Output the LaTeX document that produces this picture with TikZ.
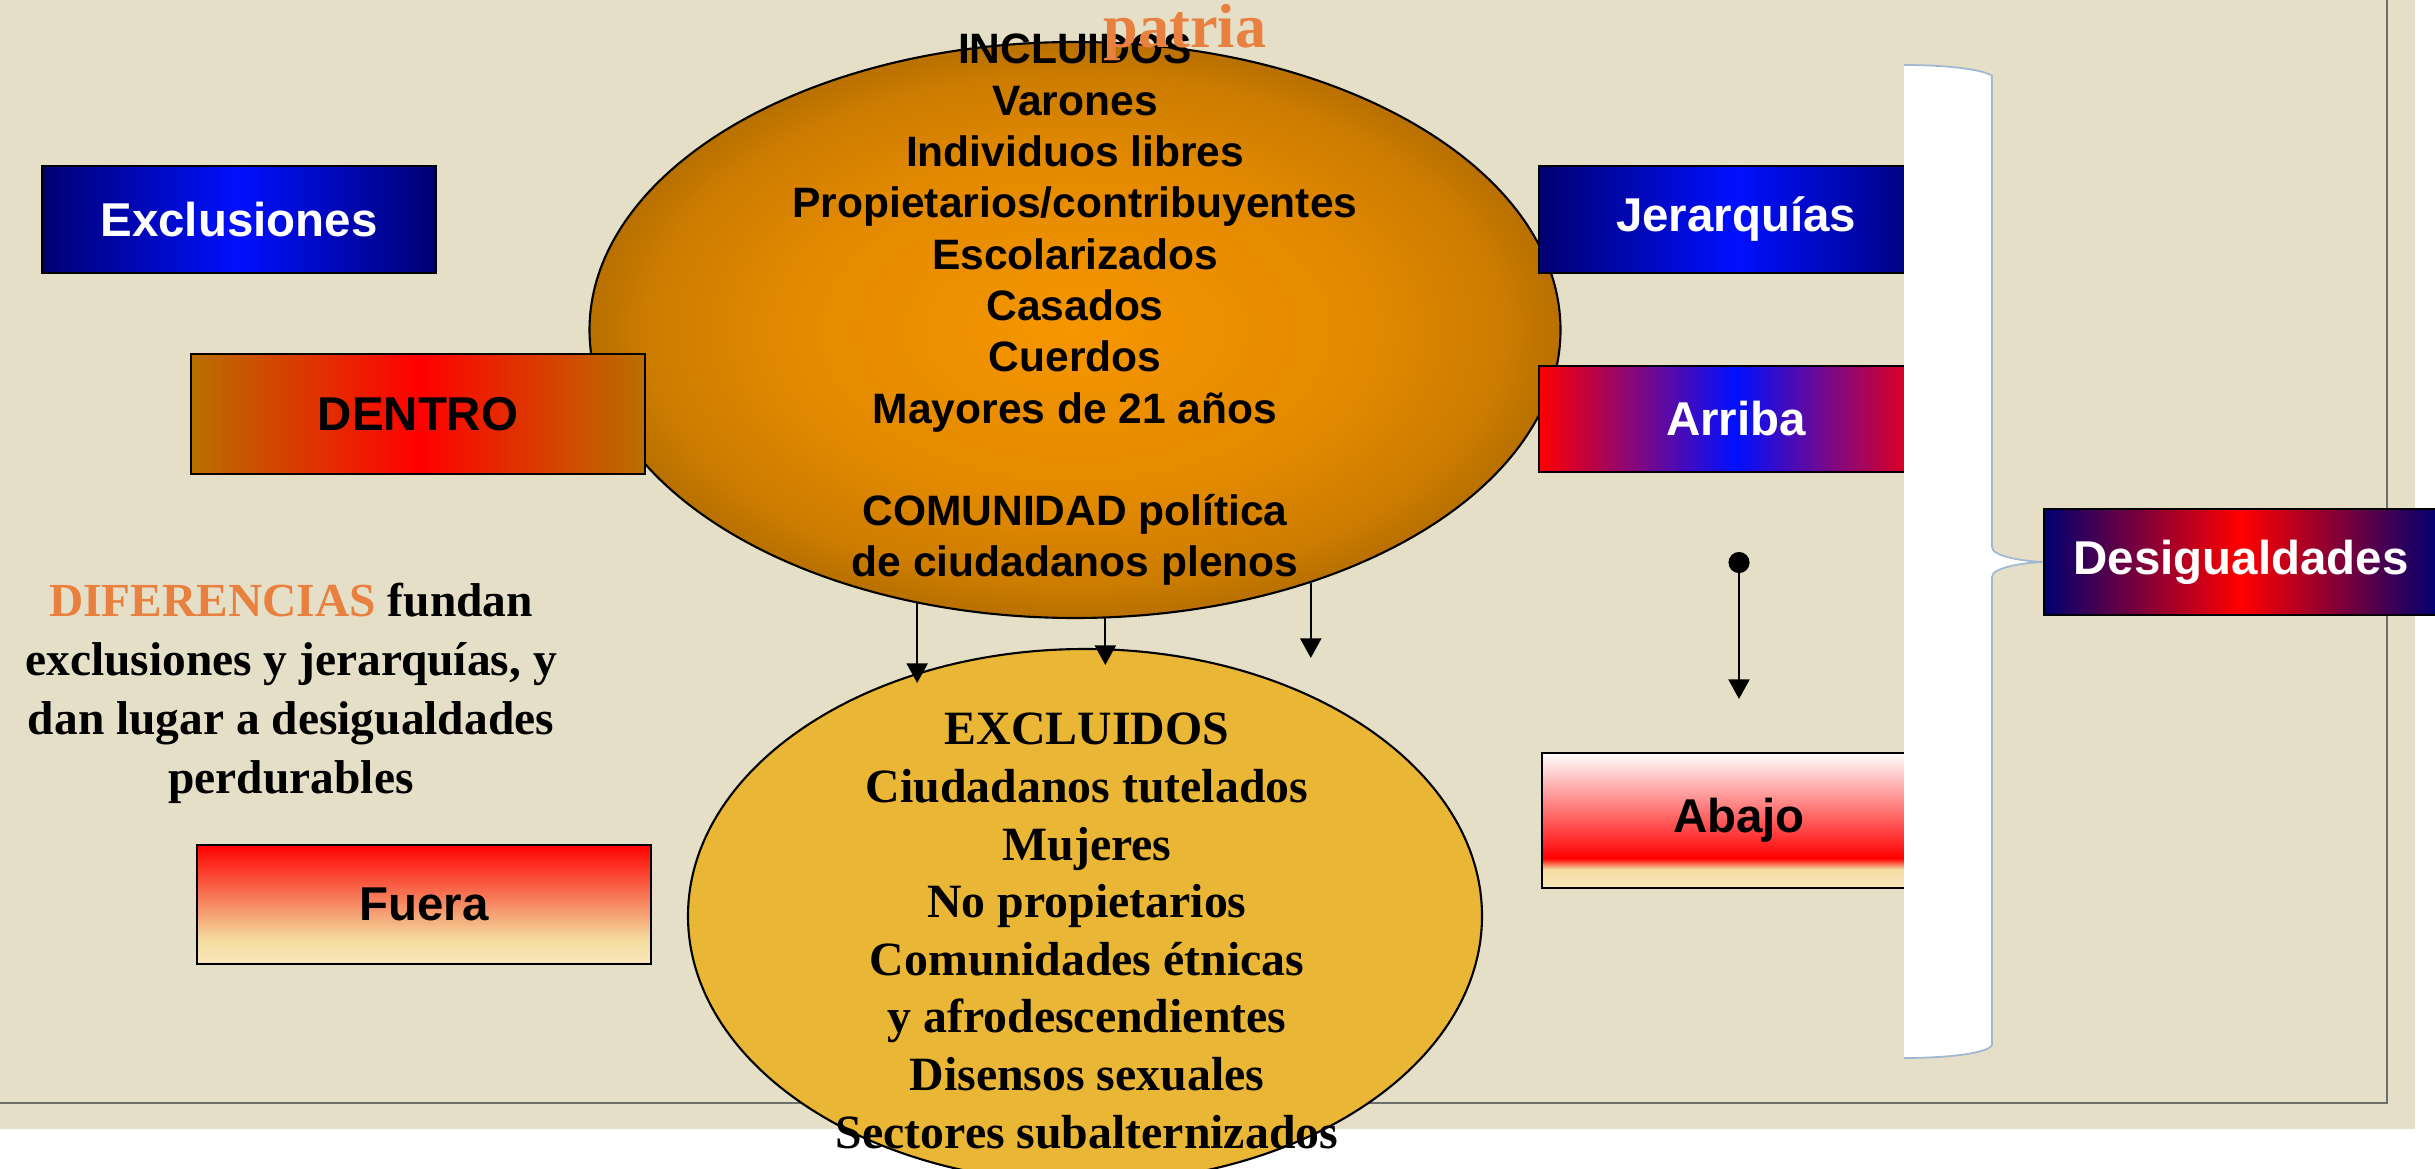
\documentclass[tikz,border=0pt]{standalone}
\usepackage{fontspec}
\setmainfont{Liberation Serif}
\setsansfont{Liberation Sans}
\usepackage{tikz}
\usetikzlibrary{shapes,arrows,arrows.meta,positioning}

\definecolor{paper}{RGB}{230,223,200}
\definecolor{navy}{RGB}{0,0,112}
\definecolor{brightblue}{RGB}{0,16,255}
\definecolor{umber}{RGB}{184,112,0}
\definecolor{darkorange}{RGB}{204,124,0}
\definecolor{midorange}{RGB}{226,137,0}
\definecolor{deeporange}{RGB}{246,150,0}
\definecolor{gold}{RGB}{233,182,54}
\definecolor{paleyellow}{RGB}{245,220,160}
\definecolor{lightyellow}{RGB}{248,232,190}
\definecolor{salmon}{RGB}{246,140,100}
\definecolor{rust}{RGB}{232,128,64}
\definecolor{braceline}{RGB}{160,184,208}
\definecolor{framegray}{RGB}{110,110,110}

\pgfdeclareverticalshading{abajoshade}{100bp}{color(0bp)=(lightyellow); color(25bp)=(lightyellow); color(32bp)=(paleyellow); color(36bp)=(red); color(75bp)=(white); color(100bp)=(white)}
\pgfdeclareverticalshading{fuerashade}{100bp}{color(0bp)=(lightyellow); color(25bp)=(lightyellow); color(35bp)=(paleyellow); color(50bp)=(salmon); color(75bp)=(red); color(100bp)=(red)}
\pgfdeclareradialshading{inclshade}{\pgfpoint{0bp}{0bp}}{color(0bp)=(deeporange); color(15bp)=(midorange); color(22bp)=(darkorange); color(25bp)=(umber); color(50bp)=(umber)}

\newcommand{\boxfont}{\sffamily\bfseries\fontsize{13.5}{16}\selectfont}
\newcommand{\inclfont}{\sffamily\bfseries\fontsize{12.1}{14.6}\selectfont}
\newcommand{\exclfont}{\rmfamily\bfseries\fontsize{13.6}{16.4}\selectfont}
\newcommand{\difffont}{\rmfamily\bfseries\fontsize{13.5}{16.8}\selectfont}

\tikzstyle{bluebox}=[rectangle, draw, line width=0.6pt, left color=navy, right color=navy, middle color=brightblue, text=white, font=\boxfont, minimum width=39.4mm, minimum height=10.7mm, inner sep=0pt]
\tikzstyle{redbluebox}=[rectangle, draw, line width=0.6pt, left color=red, right color=red, middle color=brightblue, text=white, font=\boxfont, minimum width=39.4mm, minimum height=10.6mm, inner sep=0pt]
\tikzstyle{navyredbox}=[rectangle, draw, line width=0.6pt, left color=navy, right color=navy, middle color=red, text=white, font=\boxfont, minimum width=39.4mm, minimum height=10.6mm, inner sep=0pt]
\tikzstyle{umberbox}=[rectangle, draw, line width=0.6pt, left color=umber, right color=umber, middle color=red, font=\boxfont, minimum width=45.4mm, minimum height=12mm, inner sep=0pt]
\tikzstyle{fuerabox}=[rectangle, draw, line width=0.6pt, shade, shading=fuerashade, font=\boxfont, minimum width=45.4mm, minimum height=11.9mm, inner sep=0pt]
\tikzstyle{abajobox}=[rectangle, draw, line width=0.8pt, shade, shading=abajoshade, font=\boxfont, minimum width=39.4mm, minimum height=13.5mm, inner sep=0pt]
\tikzstyle{inclellipse}=[ellipse, draw, line width=0.6pt, shade, shading=inclshade, minimum width=97.1mm, minimum height=57.6mm]
\tikzstyle{exclellipse}=[ellipse, draw, line width=0.6pt, fill=gold, minimum width=79.4mm, minimum height=53.4mm]
\tikzstyle{downarrow}=[-{Triangle[width=6pt,length=5.6pt]}, line width=0.6pt]
\tikzstyle{dotarrow}=[{Circle[length=6pt]}-{Triangle[width=6pt,length=5.6pt]}, line width=0.6pt]

\begin{document}
\begin{tikzpicture}[x=0.1mm, y=-0.1mm]

\useasboundingbox (0,0) rectangle (2435,1169);
\fill[white] (0,0) rectangle (2435,1169);
\fill[paper] (0,0) rectangle (2415,1129);
\draw[framegray, line width=0.8pt] (0,1103) -- (2387,1103) -- (2387,0);

\node[inclellipse] (incl) at (1075,330) {};
\node[align=center, font=\inclfont] (incltxt) at (1075,310) {INCLUIDOS\\Varones\\Individuos libres\\Propietarios/contribuyentes\\Escolarizados\\Casados\\Cuerdos\\Mayores de 21 años\\[14.6pt]COMUNIDAD política\\de ciudadanos plenos};

\node[bluebox] (exclusiones) at (239,219.5) {Exclusiones};
\node[umberbox] (dentro) at (418,414) {DENTRO};
\node[bluebox] (jerarquias) at (1736,219.5) {Jerarquías};
\node[redbluebox] (arriba) at (1736,419) {Arriba};
\node[abajobox] (abajo) at (1739,820.5) {Abajo};
\node[fuerabox] (fuera) at (424,904.5) {Fuera};

\node[align=center, font=\difffont] (diff) at (291,693) {\textcolor{rust}{DIFERENCIAS} fundan\\exclusiones y jerarquías, y\\dan lugar a desigualdades\\perdurables};

\node[exclellipse] (excl) at (1085,916) {};
\node[align=center, font=\exclfont] (excltxt) at (1087,931) {EXCLUIDOS\\Ciudadanos tutelados\\Mujeres\\No propietarios\\Comunidades étnicas\\y afrodescendientes\\Disensos sexuales\\Sectores subalternizados};

% flechas hacia los excluidos
\coordinate (t1) at (918,683);
\coordinate (t2) at (1102,665);
\coordinate (t3) at (1308,658);
\draw[downarrow] (incl.-120) -- (incl.-120 |- t1);
\draw[downarrow] (incl.-84.6) -- (incl.-84.6 |- t2);
\draw[downarrow] (incl.-47.2) -- (incl.-47.2 |- t3);

\coordinate (dot) at (1739,552);
\coordinate (dottip) at (1739,699);
\draw[dotarrow] (dot) -- (dottip);

% llave
\coordinate (tip) at (2043,562);
\fill[white] (1904,65) .. controls (1950,65) and (1985,70) .. (1992,76) -- (1992,547) .. controls (1992,556) and (2020,561) .. (tip) .. controls (2020,563) and (1992,568) .. (1992,577) -- (1992,1045) .. controls (1988,1053) and (1950,1058) .. (1904,1058) -- cycle;
\draw[braceline, line width=0.5pt] (1904,65) .. controls (1950,65) and (1985,70) .. (1992,76) -- (1992,547) .. controls (1992,556) and (2020,561) .. (tip) .. controls (2020,563) and (1992,568) .. (1992,577) -- (1992,1045) .. controls (1988,1053) and (1950,1058) .. (1904,1058);

\node[navyredbox, anchor=west] (desig) at (tip) {Desigualdades};

\node[font=\rmfamily\bfseries\fontsize{17.7}{20}\selectfont, text=rust] (patria) at (1185,33) {patria};

\end{tikzpicture}
\end{document}
